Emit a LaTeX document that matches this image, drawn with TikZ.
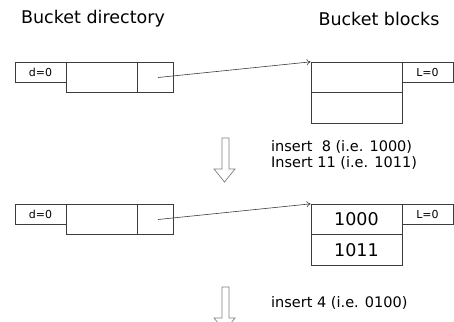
\documentclass[tikz,border=0pt]{standalone}
\usepackage{fontspec}
\setmainfont{DejaVu Sans}
\usetikzlibrary{arrows.meta}
\definecolor{edge}{HTML}{3C3C3C}
\definecolor{hollow}{HTML}{808080}
\tikzset{
  cell/.style={draw=edge, line width=0.8pt, inner sep=0pt, anchor=center},
  tag/.style={cell, minimum width=51pt, minimum height=20.5pt, font=\fontsize{11}{13}\selectfont},
  dircell/.style={cell, minimum height=30pt},
  bucket/.style={cell, minimum width=91pt, minimum height=30.5pt, font=\fontsize{17.5}{20}\selectfont},
  pointer/.style={draw=edge, line width=0.6pt, -{To[length=4pt,width=6pt]}},
  title/.style={font=\fontsize{17.5}{20}\selectfont},
  note/.style={anchor=west, align=left, inner sep=0pt, font=\fontsize{14.5}{16}\selectfont},
  downarrow/.style={draw=hollow, line width=0.7pt, fill=white},
}
\begin{document}
\begin{tikzpicture}[x=1pt, y=-1pt]
\useasboundingbox (0,0) rectangle (454,321);
\clip (0,0) rectangle (454,321);

% column headings
\node[title] (hdir) at (93,19) {Bucket directory};
\node[title] (hblk) at (379,19) {Bucket blocks};

% first state: directory of depth 0 pointing to one empty bucket
\node[tag] (d1) at (40.5,72.5) {d=0};
\node[dircell, minimum width=71pt] (da1) at (101.5,77.5) {};
\node[dircell, minimum width=36pt] (db1) at (155,77.5) {};
\node[bucket] (ka1) at (356.5,77.5) {};
\node[bucket] (kb1) at (356.5,108) {};
\node[tag] (l1) at (427.5,72.5) {L=0};
\draw[pointer] ([xshift=3pt]db1.center) -- (ka1.north west);

% transition arrow and inserted keys
\draw[downarrow] (222,138) -- (229,138) -- (229,169) -- (235,169) -- (224.5,182)
  -- (214,169) -- (222,169) -- cycle;
\node[note] (ins1) at (271,154.5) {insert\ \ 8 (i.e. 1000)\\Insert 11 (i.e. 1011)};

% second state: bucket now holds 1000 and 1011
\node[tag] (d2) at (40.5,214.5) {d=0};
\node[dircell, minimum width=71pt] (da2) at (101.5,219.5) {};
\node[dircell, minimum width=36pt] (db2) at (155,219.5) {};
\node[bucket] (ka2) at (356.5,219.5) {1000};
\node[bucket] (kb2) at (356.5,250) {1011};
\node[tag] (l2) at (427.5,214.5) {L=0};
\draw[pointer] ([xshift=3pt]db2.center) -- (ka2.north west);

% next transition
\draw[downarrow] (222,287) -- (229,287) -- (229,318) -- (235,318) -- (224.5,331)
  -- (214,318) -- (222,318) -- cycle;
\node[note] (ins2) at (271,303) {insert 4 (i.e. 0100)};
\end{tikzpicture}
\end{document}
